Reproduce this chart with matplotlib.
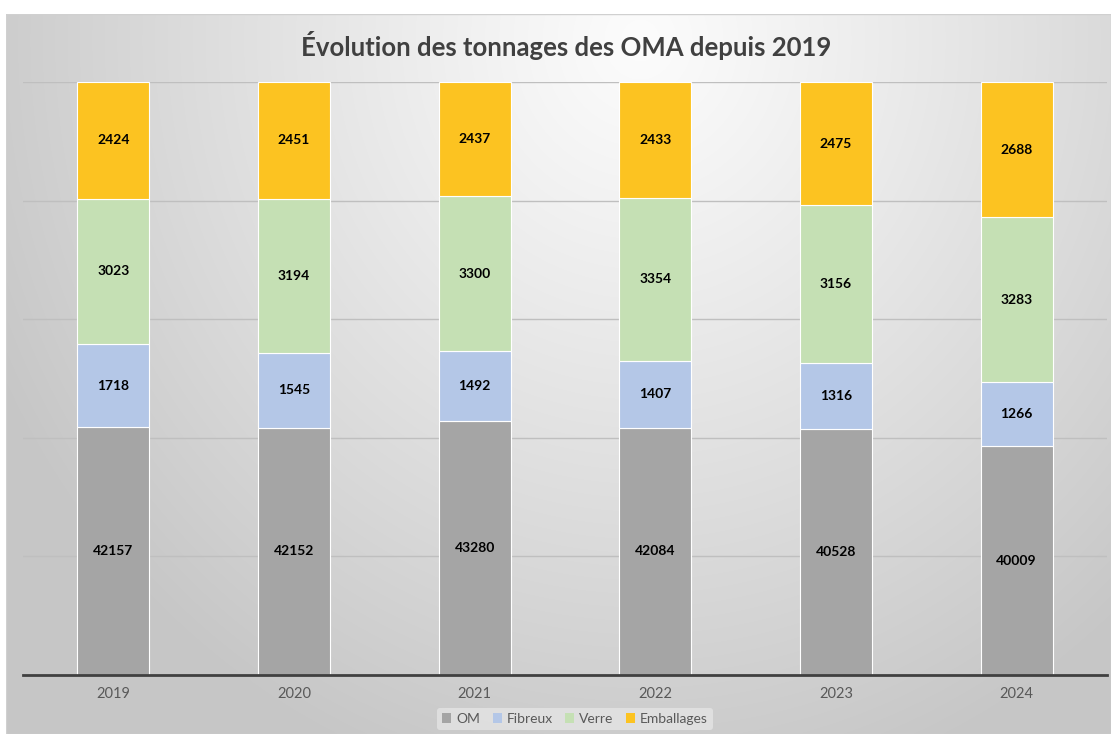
import numpy as np
import matplotlib
matplotlib.use("Agg")
import matplotlib.pyplot as plt
from matplotlib.patches import Rectangle

plt.rcParams['font.family'] = ['Lato', 'DejaVu Sans']

# ---- data ----
years = ["2019", "2020", "2021", "2022", "2023", "2024"]
series = ["OM", "Fibreux", "Verre", "Emballages"]
# tonnages shown as data labels
om_t = [42157, 42152, 43280, 42084, 40528, 40009]
fibreux_t = [1718, 1545, 1492, 1407, 1316, 1266]
verre_t = [3023, 3194, 3300, 3354, 3156, 3283]
emballages_t = [2424, 2451, 2437, 2433, 2475, 2688]
# share of each bar as drawn in the original chart (100 % stacked, %)
om_share = [41.8, 41.7, 42.8, 41.7, 41.5, 38.6]
fibreux_share = [14.0, 12.6, 11.8, 11.3, 11.1, 10.8]
verre_share = [24.5, 26.0, 26.1, 27.5, 26.6, 27.8]
emballages_share = [19.7, 19.7, 19.3, 19.5, 20.8, 22.8]

colors = ["#a5a5a5", "#b4c7e7", "#c5e0b4", "#fcc321"]

W, H = 1111, 734
fig = plt.figure(figsize=(W / 100, H / 100), dpi=100, facecolor="white")

# background radial gradient of the chart area
bx0, by0 = 6, 14
bg = fig.add_axes([bx0 / W, 0, 1 - bx0 / W, 1 - by0 / H], zorder=0)
yy, xx = np.mgrid[by0:H, bx0:W]
d = np.sqrt(((xx - 640) / 720.0) ** 2 + ((yy - 40) / 780.0) ** 2)
d = np.clip(d, 0, 1)
val = (252 - 54 * d ** 1.1) / 255.0
img = np.dstack([val, val, val])
bg.imshow(img, aspect="auto", extent=[0, 1, 0, 1], origin="upper")
bg.add_patch(Rectangle((0, 0), 1, 1, transform=bg.transAxes, fill=False,
                       edgecolor="#d0d0d0", lw=1.0))
bg.set_axis_off()

# main axes
x0, x1 = 23, 1107
ytop, ybot = 82, 675
ax = fig.add_axes([x0 / W, 1 - ybot / H, (x1 - x0) / W, (ybot - ytop) / H], zorder=1)
ax.set_facecolor("none")

x = np.arange(len(years))
shares = [om_share, fibreux_share, verre_share, emballages_share]
labels = [om_t, fibreux_t, verre_t, emballages_t]
bottom = np.zeros(len(years))
for name, sh, lab, c in zip(series, shares, labels, colors):
    sh = np.array(sh, dtype=float)
    ax.bar(x, sh, bottom=bottom, width=0.4, color=c, edgecolor="white",
           linewidth=0.8, label=name, zorder=3)
    for xi, b, h, t in zip(x, bottom, sh, lab):
        ax.text(xi, b + h / 2, str(t), ha="center", va="center",
                fontsize=10, fontweight="bold", color="black", zorder=4)
    bottom += sh

ax.set_xlim(-0.5, len(years) - 0.5)
ax.set_ylim(0, 100)
ax.set_yticks([20, 40, 60, 80, 100])
ax.yaxis.grid(True, color="#bfbfbf", linewidth=1.0, zorder=1)
ax.tick_params(axis="y", left=False, labelleft=False)
ax.set_xticks(x)
ax.set_xticklabels(years, fontsize=10.5, color="#595959")
ax.tick_params(axis="x", length=0, pad=9)
for s in ["top", "right", "left"]:
    ax.spines[s].set_visible(False)
ax.spines["bottom"].set_color("#404040")
ax.spines["bottom"].set_linewidth(2.0)
ax.spines["bottom"].set_zorder(5)

fig.text(566 / W, 1 - 45 / H, "Évolution des tonnages des OMA depuis 2019",
         ha="center", va="center", fontsize=18.5, fontweight="bold",
         color="#404040", zorder=5)

leg = fig.legend(loc="center", bbox_to_anchor=(575 / W, 1 - 719 / H), ncol=4,
                 frameon=True, fontsize=10, handlelength=0.65, handleheight=0.65,
                 handletextpad=0.35, columnspacing=0.9, borderpad=0.35)
leg.get_frame().set_facecolor("#e4e4e4")
leg.get_frame().set_edgecolor("none")
leg.get_frame().set_alpha(0.8)
for t in leg.get_texts():
    t.set_color("#595959")
for h in leg.legend_handles:
    h.set_edgecolor("none")

fig.savefig("out.png", dpi=100, facecolor="white")
